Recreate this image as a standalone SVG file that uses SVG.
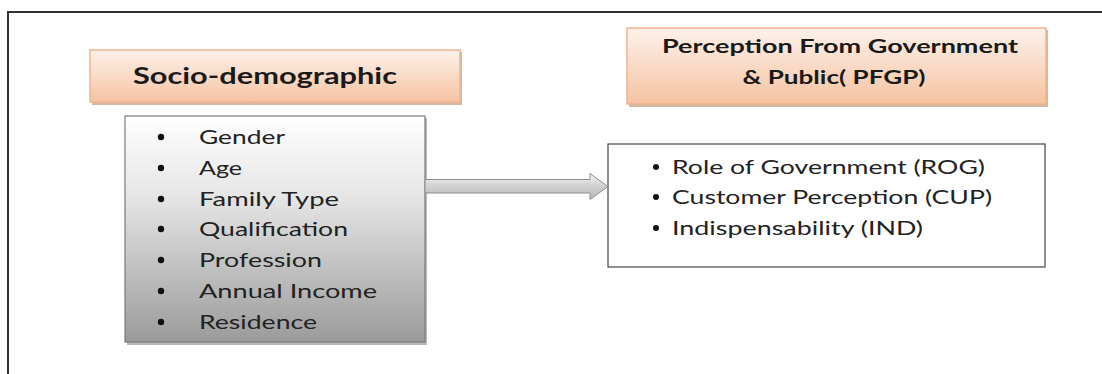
<svg xmlns="http://www.w3.org/2000/svg" width="1102" height="374" viewBox="0 0 1102 374">
<defs>
<linearGradient id="peach" x1="0" y1="0" x2="0" y2="1">
<stop offset="0" stop-color="#fdf1ea"/>
<stop offset="1" stop-color="#f5c3a2"/>
</linearGradient>
<linearGradient id="gray" x1="0" y1="0" x2="0" y2="1">
<stop offset="0" stop-color="#ffffff"/>
<stop offset="0.35" stop-color="#e6e6e6"/>
<stop offset="1" stop-color="#9b9b9b"/>
</linearGradient>
<linearGradient id="arrowg" x1="0" y1="0" x2="0" y2="1">
<stop offset="0" stop-color="#f4f4f4"/>
<stop offset="0.5" stop-color="#d0d0d0"/>
<stop offset="1" stop-color="#b8b8b8"/>
</linearGradient>
</defs>
<style>
.title{font-family:Lato,"Liberation Sans",sans-serif;font-weight:bold;fill:#1a1a1a}
.item{font-family:Lato,"Liberation Sans",sans-serif;fill:#222}
.peachbox{fill:url(#peach);stroke:#f0b48e;stroke-width:1.5}
.shadow{fill:#c9a58e;opacity:0.8}
.gshadow{fill:#8a8a8a;opacity:0.6}
</style>
<rect width="1102" height="374" fill="#ffffff"/>
<path d="M8 374 V12 H1102" fill="none" stroke="#333" stroke-width="2"/>

<g id="socio-title">
<rect class="shadow" x="92" y="52" width="370" height="53"/>
<rect class="peachbox" x="90" y="50" width="370" height="52"/>
<text class="title" x="265" y="84" font-size="23" text-anchor="middle" textLength="264" lengthAdjust="spacingAndGlyphs">Socio-demographic</text>
</g>

<g id="pfgp-title">
<rect class="shadow" x="629" y="30" width="419" height="77"/>
<rect class="peachbox" x="627" y="28" width="419" height="76"/>
<text class="title" x="840" y="53" font-size="19" text-anchor="middle" textLength="356" lengthAdjust="spacingAndGlyphs">Perception From Government</text>
<text class="title" x="834" y="84" font-size="19" text-anchor="middle" textLength="183" lengthAdjust="spacingAndGlyphs">&amp; Public( PFGP)</text>
</g>

<g id="socio-list">
<rect class="gshadow" x="127" y="118" width="300" height="227"/>
<rect x="125" y="116" width="300" height="226" fill="url(#gray)" stroke="#7a7a7a" stroke-width="1.2"/>
<g class="item" font-size="19">
<circle cx="161" cy="137" r="3.2" fill="#111"/>
<text x="199" y="144" textLength="86" lengthAdjust="spacingAndGlyphs">Gender</text>
<circle cx="161" cy="168" r="3.2" fill="#111"/>
<text x="199" y="175" textLength="43" lengthAdjust="spacingAndGlyphs">Age</text>
<circle cx="161" cy="199" r="3.2" fill="#111"/>
<text x="199" y="206" textLength="140" lengthAdjust="spacingAndGlyphs">Family Type</text>
<circle cx="161" cy="229" r="3.2" fill="#111"/>
<text x="199" y="236" textLength="149" lengthAdjust="spacingAndGlyphs">Qualification</text>
<circle cx="161" cy="260" r="3.2" fill="#111"/>
<text x="199" y="267" textLength="123" lengthAdjust="spacingAndGlyphs">Profession</text>
<circle cx="161" cy="291" r="3.2" fill="#111"/>
<text x="199" y="298" textLength="178" lengthAdjust="spacingAndGlyphs">Annual Income</text>
<circle cx="161" cy="322" r="3.2" fill="#111"/>
<text x="199" y="329" textLength="118" lengthAdjust="spacingAndGlyphs">Residence</text>
</g>
</g>

<g id="pfgp-list">
<rect x="608" y="144" width="437" height="123" fill="#ffffff" stroke="#444" stroke-width="1.2"/>
<g class="item" font-size="19">
<circle cx="656" cy="167" r="3" fill="#111"/>
<text x="672" y="174" textLength="313" lengthAdjust="spacingAndGlyphs">Role of Government (ROG)</text>
<circle cx="656" cy="197" r="3" fill="#111"/>
<text x="672" y="204" textLength="320" lengthAdjust="spacingAndGlyphs">Customer Perception (CUP)</text>
<circle cx="656" cy="228" r="3" fill="#111"/>
<text x="672" y="235" textLength="251" lengthAdjust="spacingAndGlyphs">Indispensability (IND)</text>
</g>
</g>

<g id="connectors">
<path d="M425 179.5 H590 V173.5 L608 186.5 L590 199.5 V193 H425 Z" fill="url(#arrowg)" stroke="#8f8f8f" stroke-width="1"/>
</g>
</svg>
